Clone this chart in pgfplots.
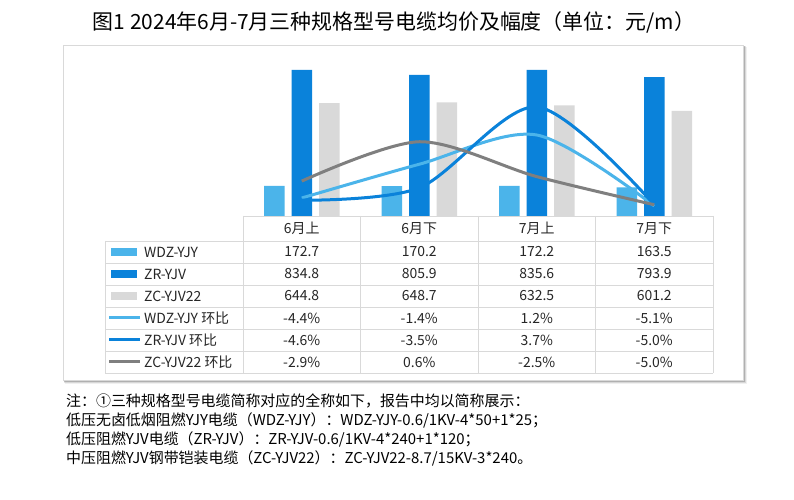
\documentclass[border=0pt]{standalone}
\usepackage{pgfplots}
\pgfplotsset{compat=1.18}
\usepackage{fontspec}
\setmainfont{Noto Sans CJK SC}
\definecolor{cA}{HTML}{4BB4EA}
\definecolor{cB}{HTML}{0A82DA}
\definecolor{cC}{HTML}{D9D9D9}
\definecolor{cD}{HTML}{7F7F7F}
\definecolor{gridc}{HTML}{D9D9D9}
\definecolor{txt}{HTML}{262626}
\begin{document}
\begin{tikzpicture}
\begin{scope}[x=1bp,y=1bp]
\fill[white] (0,0) rectangle (794,500);
% box with shadow
\fill[black,opacity=0.06] (65,116) rectangle (747,453);
\fill[black,opacity=0.10] (64,117) rectangle (746,454);
\fill[black,opacity=0.18] (64,118) rectangle (745,454);
\fill[white] (63,120) rectangle (743,455);
\draw[gridc, line width=0.75bp] (63,120) rectangle (743,455);
% title
\node[font=\fontsize{21}{24}\selectfont, text=black] at (394,478) {图1 2024年6月-7月三种规格型号电缆均价及幅度（单位：元/m）};
\end{scope}
% bars
\begin{axis}[at={(243bp,284bp)}, anchor=south west, width=470bp, height=157.5bp, scale only axis,
  xmin=-0.5, xmax=3.5, ymin=0, ymax=900, axis lines=none, ticks=none, clip=false]
\addplot[ybar, bar width=20.5bp, bar shift=-27.5bp, fill=cA, draw=none] coordinates {(0,172.7) (1,170.2) (2,172.2) (3,163.5)};
\addplot[ybar, bar width=20.5bp, bar shift=0bp, fill=cB, draw=none] coordinates {(0,834.8) (1,805.9) (2,835.6) (3,793.9)};
\addplot[ybar, bar width=20.5bp, bar shift=27.5bp, fill=cC, draw=none] coordinates {(0,644.8) (1,648.7) (2,632.5) (3,601.2)};
\end{axis}
% lines
\begin{axis}[at={(243bp,284bp)}, anchor=south west, width=470bp, height=157.5bp, scale only axis,
  xmin=-0.5, xmax=3.5, ymin=-6, ymax=8, axis lines=none, ticks=none, clip=false]
\addplot[smooth, tension=0.5, cA, line width=3bp, no marks] coordinates {(0,-4.4) (1,-1.4) (2,1.2) (3,-5.1)};
\addplot[smooth, tension=0.5, cB, line width=3bp, no marks] coordinates {(0,-4.6) (1,-3.5) (2,3.7) (3,-5.0)};
\addplot[smooth, tension=0.5, cD, line width=3bp, no marks] coordinates {(0,-2.9) (1,0.6) (2,-2.5) (3,-5.0)};
\end{axis}
\begin{scope}[x=1bp,y=1bp]
% table grid
\begin{scope}[gridc, line width=0.75bp]
\draw (243,284) -- (713,284);
\foreach \yy in {259,237,215,193,171,149,127} \draw (105,\yy) -- (713,\yy);
\draw (105,259) -- (105,127);
\foreach \xx in {243,360.5,478,595.5,713} \draw (\xx,284) -- (\xx,127);
\end{scope}
% table text
\begin{scope}[font=\fontsize{14}{16}\selectfont, text=txt]
\node at (301.75,271.5) {6月上};
\node at (419.25,271.5) {6月下};
\node at (536.75,271.5) {7月上};
\node at (654.25,271.5) {7月下};
\node at (301.75,248) {172.7}; \node at (419.25,248) {170.2}; \node at (536.75,248) {172.2}; \node at (654.25,248) {163.5};
\node at (301.75,226) {834.8}; \node at (419.25,226) {805.9}; \node at (536.75,226) {835.6}; \node at (654.25,226) {793.9};
\node at (301.75,204) {644.8}; \node at (419.25,204) {648.7}; \node at (536.75,204) {632.5}; \node at (654.25,204) {601.2};
\node at (301.75,182) {-4.4\%}; \node at (419.25,182) {-1.4\%}; \node at (536.75,182) {1.2\%}; \node at (654.25,182) {-5.1\%};
\node at (301.75,160) {-4.6\%}; \node at (419.25,160) {-3.5\%}; \node at (536.75,160) {3.7\%}; \node at (654.25,160) {-5.0\%};
\node at (301.75,138) {-2.9\%}; \node at (419.25,138) {0.6\%}; \node at (536.75,138) {-2.5\%}; \node at (654.25,138) {-5.0\%};
% legend
\fill[cA] (111,244) rectangle (137,252);
\fill[cB] (111,222) rectangle (137,230);
\fill[cC] (111,200) rectangle (137,208);
\draw[cA, line width=3bp] (109,182) -- (140,182);
\draw[cB, line width=3bp] (109,160) -- (140,160);
\draw[cD, line width=3bp] (109,138) -- (140,138);
\node[anchor=west, inner sep=0pt] at (144,248) {WDZ-YJY};
\node[anchor=west, inner sep=0pt] at (144,226) {ZR-YJV};
\node[anchor=west, inner sep=0pt] at (144,204) {ZC-YJV22};
\node[anchor=west, inner sep=0pt] at (144,182) {WDZ-YJY 环比};
\node[anchor=west, inner sep=0pt] at (144,160) {ZR-YJV 环比};
\node[anchor=west, inner sep=0pt] at (144,138) {ZC-YJV22 环比};
\end{scope}
% notes
\begin{scope}[font=\fontsize{15}{18}\selectfont, text=black]
\node[anchor=west, inner sep=0pt] at (66,99) {注：①三种规格型号电缆简称对应的全称如下，报告中均以简称展示：};
\node[anchor=west, inner sep=0pt] at (66,80) {低压无卤低烟阻燃YJY电缆（WDZ-YJY）：WDZ-YJY-0.6/1KV-4*50+1*25；};
\node[anchor=west, inner sep=0pt] at (66,61) {低压阻燃YJV电缆（ZR-YJV）：ZR-YJV-0.6/1KV-4*240+1*120；};
\node[anchor=west, inner sep=0pt] at (66,42) {中压阻燃YJV钢带铠装电缆（ZC-YJV22）：ZC-YJV22-8.7/15KV-3*240。};
\end{scope}
\end{scope}
\end{tikzpicture}
\end{document}
